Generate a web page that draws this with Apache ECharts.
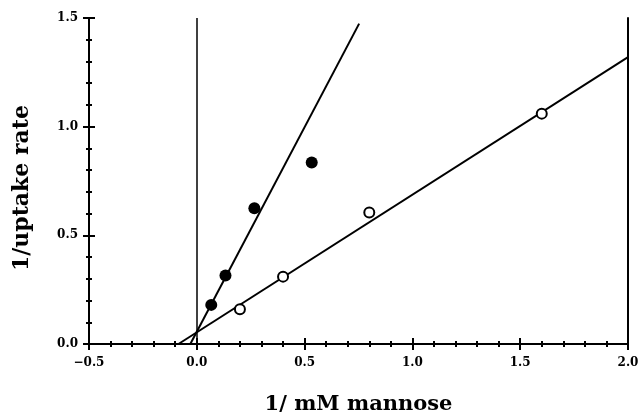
<!DOCTYPE html>
<html>
<head>
<meta charset="utf-8">
<script src="https://cdn.jsdelivr.net/npm/echarts@6/dist/echarts.min.js"></script>
<style>
html,body{margin:0;padding:0;background:#fff;}
#main{width:639px;height:412px;}
</style>
</head>
<body>
<div id="main"></div>
<script>
// 双倒数图 数据
var filledX = [0.067, 0.133, 0.267, 0.533];
var filledY = [0.18, 0.315, 0.625, 0.835];
var openX = [0.2, 0.4, 0.8, 1.6];
var openY = [0.16, 0.31, 0.605, 1.06];
// 拟合直线端点
var filledLineX = [-0.03, 0.753];
var filledLineY = [0, 1.474];
var openLineX = [-0.085, 2.0];
var openLineY = [0, 1.32];

function pairs(xs, ys){
	var out = [];
	for (var i = 0; i < xs.length; i++) out.push([xs[i], ys[i]]);
	return out;
}
function fmt(v){
	var s = Math.abs(v).toFixed(1);
	return v < 0 ? '\u2212' + s : s;
}

var fontFam = '"DejaVu Serif", serif';
var tickLabel = {color:'#000', fontFamily:fontFam, fontWeight:'bold', fontSize:12};

function xAx(inside, showLabel){
	return {
		type:'value', min:-0.5, max:2.0, interval:0.5, position:'bottom',
		name: showLabel ? '1/ mM mannose' : '',
		nameLocation:'middle', nameGap:50,
		nameTextStyle:{color:'#000', fontFamily:fontFam, fontWeight:'bold', fontSize:21},
		axisLine:{show:true, onZero:false, lineStyle:{color:'#000', width:2}},
		axisTick:{show:true, inside:inside, length:6, lineStyle:{color:'#000', width:2}},
		minorTick:{show:true, splitNumber:5, length:3, lineStyle:{color:'#000', width:2}},
		axisLabel:{show:showLabel, margin:13, formatter:fmt, ...tickLabel},
		splitLine:{show:false}, minorSplitLine:{show:false}
	};
}
function yAx(inside, showLabel){
	return {
		type:'value', min:0, max:1.5, interval:0.5, position:'left',
		name: showLabel ? '1/uptake rate' : '',
		nameLocation:'middle', nameGap:56,
		nameTextStyle:{color:'#000', fontFamily:fontFam, fontWeight:'bold', fontSize:22, padding:[0,14,0,0]},
		axisLine:{show:true, onZero:false, lineStyle:{color:'#000', width:2}},
		axisTick:{show:true, inside:inside, length:6, lineStyle:{color:'#000', width:2}},
		minorTick:{show:true, splitNumber:5, length:3, lineStyle:{color:'#000', width:2}},
		axisLabel:{show:showLabel, margin:11, formatter:fmt, ...tickLabel},
		splitLine:{show:false}, minorSplitLine:{show:false}
	};
}
var rightAxis = {
	type:'value', min:0, max:1.5, position:'right',
	axisLine:{show:true, onZero:false, lineStyle:{color:'#000', width:2}},
	axisTick:{show:false}, axisLabel:{show:false}, splitLine:{show:false}
};

var chart = echarts.init(document.getElementById('main'));
var options = {
	backgroundColor:'#ffffff',
	animation:false,
	grid:{left:89, right:11, top:18, bottom:68, outerBoundsMode:'none', containLabel:false},
	xAxis:[xAx(false, true), xAx(true, false)],
	yAxis:[yAx(false, true), yAx(true, false), rightAxis],
	series:[
		{
			type:'line', data:pairs(filledLineX, filledLineY), symbol:'none',
			lineStyle:{color:'#000', width:2}, z:2,
			markLine:{
				silent:true, symbol:'none', label:{show:false},
				lineStyle:{color:'#000', width:1.5, type:'solid'},
				data:[{xAxis:0}]
			}
		},
		{
			type:'line', data:pairs(openLineX, openLineY), symbol:'none',
			lineStyle:{color:'#000', width:2}, z:2
		},
		{
			type:'scatter', data:pairs(filledX, filledY), symbol:'circle', symbolSize:12,
			itemStyle:{color:'#000', opacity:1}, z:5
		},
		{
			type:'scatter', data:pairs(openX, openY), symbol:'circle', symbolSize:10,
			itemStyle:{color:'#fff', borderColor:'#000', borderWidth:2, opacity:1}, z:5
		}
	]
};
chart.setOption(options);
</script>
</body>
</html>
